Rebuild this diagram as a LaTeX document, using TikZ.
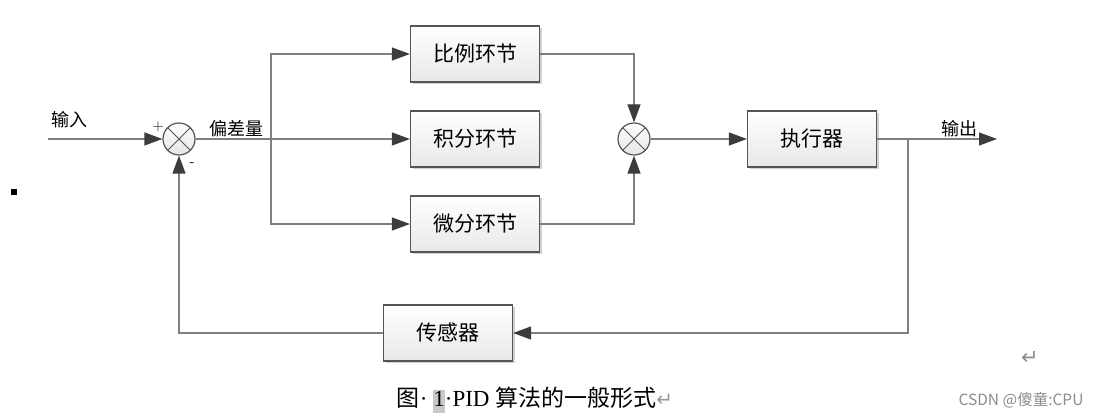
\documentclass[tikz,border=0pt]{standalone}
\usepackage{fontspec}
\setmainfont{Liberation Serif}
\newfontfamily\cjkfont{Noto Sans CJK SC}
\newfontfamily\symfont{DejaVu Sans}
\usetikzlibrary{arrows.meta,shadows}
\definecolor{linegray}{HTML}{7F7F7F}
\definecolor{boxgray}{HTML}{555555}
\definecolor{tipgray}{HTML}{3C3C3C}
\definecolor{hlgray}{HTML}{C8C8C8}

\begin{document}
\begin{tikzpicture}[x=1pt,y=-1pt,line width=1.2pt,
  >={Triangle[length=18pt,width=13pt,color=tipgray]},
  link/.style={->,draw=linegray},
  block/.style={draw=boxgray,top color=white,bottom color=black!9,
    minimum width=129pt,minimum height=56pt,inner sep=0pt,
    font=\cjkfont\fontsize{21}{21}\selectfont,
    drop shadow={shadow xshift=2pt,shadow yshift=-2pt,opacity=0.18,fill=black}},
  sum/.style={circle,draw=boxgray,top color=white,bottom color=black!10,
    minimum size=32pt,inner sep=0pt,
    path picture={\draw[line width=0.8pt,boxgray]
      (path picture bounding box.north west) -- (path picture bounding box.south east)
      (path picture bounding box.north east) -- (path picture bounding box.south west);}},
  lbl/.style={font=\cjkfont\fontsize{18}{18}\selectfont,inner sep=0pt},
  sign/.style={font=\sffamily\fontsize{15}{15}\selectfont,inner sep=0pt}]

  \useasboundingbox (0,0) rectangle (1098,419);

  % summing points and blocks
  \node[sum] (s1) at (179,139) {};
  \node[sum] (s2) at (634,139) {};
  \node[block] (bi) at (475,54) {比例环节};
  \node[block] (ji) at (475,139) {积分环节};
  \node[block] (wei) at (475,224) {微分环节};
  \node[block] (zx) at (812,139) {执行器};
  \node[block] (cg) at (448,333) {传感器};

  \coordinate (in) at (48,139);
  \coordinate (br) at (271,139);
  \coordinate (out) at (997,139);
  \coordinate (fb) at (908,139);

  % labels
  \node[lbl] (inlbl) at (69,120) {输入};
  \node[lbl] (errlbl) at (236,129) {偏差量};
  \node[lbl] (outlbl) at (959,129) {输出};
  \node[sign] (plus) at (158,127) {+};
  \node[sign] (minus) at (192,165) {-};

  % forward path
  \draw[link] (in) -- (s1);
  \draw[link] (s1) -- (ji);
  \draw[link] (br) |- (bi);
  \draw[link] (br) |- (wei);
  \draw[link] (bi) -| (s2);
  \draw[link] (wei) -| (s2);
  \draw[link] (s2) -- (zx);
  \draw[link] (zx) -- (out);

  % feedback path
  \draw[link] (fb) |- (cg);
  \draw[link] (cg) -| (s1);

  % marks, caption and watermark
  \fill[black] (11,189) rectangle (17,195);
  \node[font=\symfont\fontsize{21}{21}\selectfont,text=black!45,inner sep=0pt] (ret) at (1030,358) {↵};
  \node[font=\fontsize{23}{23}\selectfont,inner sep=0pt] (cap) at (535,400)
    {{\cjkfont 图}·\ {\setlength{\fboxsep}{0pt}\colorbox{hlgray}{\strut 1}}·PID {\cjkfont 算法的一般形式}{\symfont\fontsize{20}{20}\selectfont\color{black!40}↵}};
  \node[font=\cjkfont\fontsize{15.5}{15.5}\selectfont,text=black!45,inner sep=0pt] (wm) at (1021,400) {CSDN @傻童:CPU};
\end{tikzpicture}
\end{document}
